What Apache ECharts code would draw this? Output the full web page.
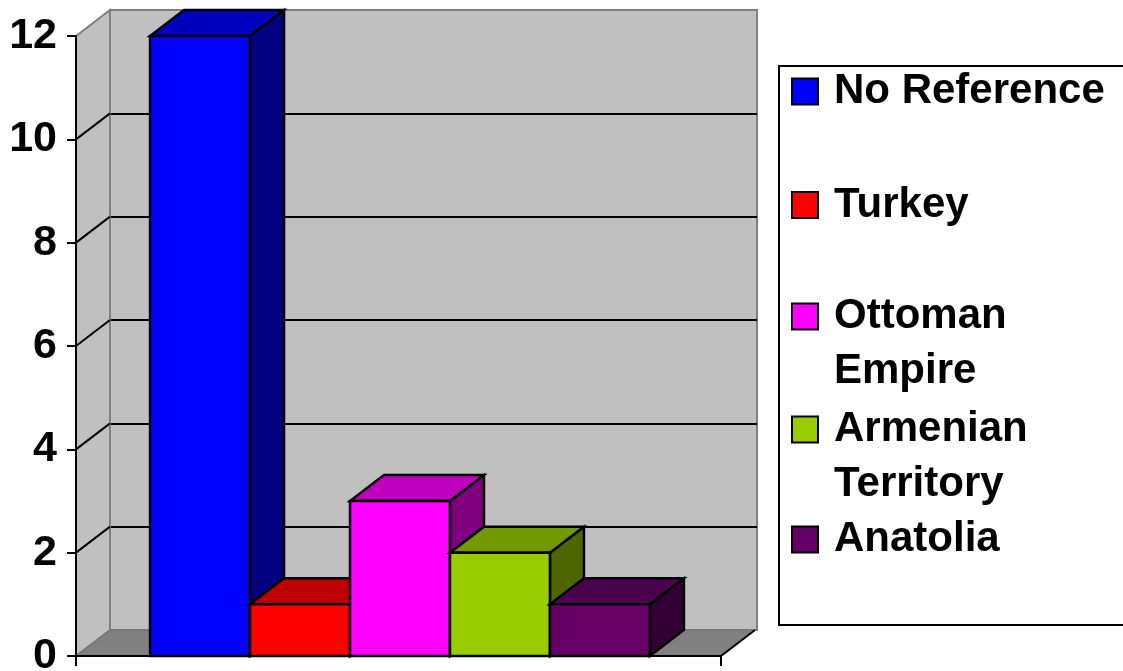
<!DOCTYPE html>
<html><head><meta charset="utf-8">
<script src="https://cdn.jsdelivr.net/npm/echarts@6/dist/echarts.min.js"></script>
<style>html,body{margin:0;padding:0;background:#fff}#c{width:1123px;height:671px}</style>
</head><body><div id="c"></div>
<script>
// ---- data ----
const seriesNames = ['No Reference', 'Turkey', 'Ottoman Empire', 'Armenian Territory', 'Anatolia'];
const seriesValues = [12, 1, 3, 2, 1];
const seriesColors = ['#0000FF', '#FF0000', '#FF00FF', '#99CC00', '#660066'];
const yTicks = [0, 2, 4, 6, 8, 10, 12];
const legendLines = [['No Reference'], ['Turkey'], ['Ottoman', 'Empire'], ['Armenian', 'Territory'], ['Anatolia']];

// ---- layout / style constants ----
const DX = 34, DY = -26;            // 3D depth offset
const FONT = '"Liberation Sans", Arial, Helvetica, sans-serif';
const BAR_RATIO = 0.155;            // bar width relative to category band
const legendCenters = [98, 211.5, 323, 436, 546];
const LEGEND_LH = 55;

function shade(hex, f) {
  const n = parseInt(hex.slice(1), 16);
  const r = Math.round(((n >> 16) & 255) * f), g = Math.round(((n >> 8) & 255) * f), b = Math.round((n & 255) * f);
  return 'rgb(' + r + ',' + g + ',' + b + ')';
}

function barRender(i) {
  return function (params, api) {
    const top = api.coord([0, api.value(1)]);
    const base = api.coord([0, 0]);
    const band = api.size([1, 0])[0];
    const bw = band * BAR_RATIO;
    const x0 = top[0] + (i - seriesNames.length / 2) * bw + 1.5;
    const x1 = x0 + bw;
    const yT = top[1], yB = base[1];
    const col = seriesColors[i];
    const ln = { stroke: '#000', lineWidth: 2.5, lineJoin: 'miter' };
    return {
      type: 'group', children: [
        { type: 'polygon', z2: i * 3, shape: { points: [[x1, yT], [x1 + DX, yT + DY], [x1 + DX, yB + DY], [x1, yB]] }, style: Object.assign({ fill: shade(col, 0.5) }, ln) },
        { type: 'polygon', z2: i * 3 + 1, shape: { points: [[x0, yT], [x1, yT], [x1 + DX, yT + DY], [x0 + DX, yT + DY]] }, style: Object.assign({ fill: shade(col, 0.75) }, ln) },
        { type: 'rect', z2: i * 3 + 2, shape: { x: x0, y: yT, width: bw, height: yB - yT }, style: Object.assign({ fill: col }, ln) }
      ]
    };
  };
}

function wallRender(params, api) {
  const cs = params.coordSys;
  const xL = cs.x, xR = cs.x + cs.width, yT = cs.y, yB = cs.y + cs.height;
  const children = [
    { type: 'polygon', shape: { points: [[xL, yT], [xL + DX, yT + DY], [xL + DX, yB + DY], [xL, yB]] }, style: { fill: '#C0C0C0', stroke: '#808080', lineWidth: 2 } },
    { type: 'polygon', shape: { points: [[xL, yB], [xL + DX, yB + DY], [xR + DX, yB + DY], [xR, yB]] }, style: { fill: '#808080', stroke: '#707070', lineWidth: 1 } },
    { type: 'line', shape: { x1: xR, y1: yB, x2: xR + DX, y2: yB + DY }, style: { stroke: '#000', lineWidth: 2 } }
  ];
  yTicks.slice(1, -1).forEach(function (v) {
    const y = api.coord([0, v])[1];
    children.push({ type: 'line', shape: { x1: xL, y1: y, x2: xL + DX, y2: y + DY }, style: { stroke: '#000', lineWidth: 2 } });
  });
  return { type: 'group', children: children };
}

const yMin = yTicks[0], yMax = yTicks[yTicks.length - 1], yInterval = yTicks[1] - yTicks[0];

const series = [{
  type: 'custom', name: '__wall', xAxisIndex: 0, yAxisIndex: 0, z: 1, silent: true,
  data: [[0, 0]], renderItem: wallRender, clip: false
}];
seriesNames.forEach(function (n, i) {
  series.push({
    type: 'custom', name: n, xAxisIndex: 0, yAxisIndex: 0, z: 3, clip: false,
    itemStyle: { color: seriesColors[i], borderColor: '#000', borderWidth: 2 },
    data: [[0, seriesValues[i]]], renderItem: barRender(i)
  });
});

const legends = seriesNames.map(function (n, i) {
  const lines = legendLines[i];
  const multi = lines.length > 1;
  return {
    data: [n], orient: 'vertical', left: 791,
    top: legendCenters[i] - (multi ? 1.5 * LEGEND_LH : 0.5 * LEGEND_LH),
    padding: 0, icon: 'rect', itemWidth: 26, itemHeight: 26, selectedMode: false,
    itemStyle: { borderColor: '#000', borderWidth: 2 },
    formatter: function () {
      return multi ? '{s| }\n' + lines.map(function (l) { return '{t|' + l + '}'; }).join('\n') : '{t|' + lines[0] + '}';
    },
    textStyle: {
      rich: {
        t: { fontFamily: FONT, fontWeight: 'bold', fontSize: 42, lineHeight: LEGEND_LH, padding: [0, 0, 0, 11], color: '#000' },
        s: { fontFamily: FONT, fontSize: 42, lineHeight: LEGEND_LH }
      }
    }
  };
});

const option = {
  animation: false,
  backgroundColor: '#fff',
  graphic: [{ type: 'rect', z: -1, shape: { x: 779, y: 66, width: 400, height: 559 }, style: { fill: '#fff', stroke: '#000', lineWidth: 2 } }],
  legend: legends,
  grid: [
    { left: 76, right: 402, top: 36, bottom: 15, outerBoundsMode: 'none', containLabel: false },
    { left: 110, right: 366, top: 10, bottom: 41, outerBoundsMode: 'none', containLabel: false, show: true, backgroundColor: '#C0C0C0', borderColor: '#808080', borderWidth: 2, z: 0 }
  ],
  xAxis: [
    { type: 'category', gridIndex: 0, data: [''], z: 5, boundaryGap: true,
      axisLine: { lineStyle: { color: '#000', width: 2 } },
      axisTick: { show: true, length: 10, lineStyle: { color: '#000', width: 2 } },
      axisLabel: { show: false }, splitLine: { show: false } },
    { type: 'category', gridIndex: 1, data: [''], show: false }
  ],
  yAxis: [
    { type: 'value', gridIndex: 0, min: yMin, max: yMax, interval: yInterval, z: 5,
      axisLine: { show: true, lineStyle: { color: '#000', width: 2 } },
      axisTick: { show: true, length: 9, lineStyle: { color: '#000', width: 2 } },
      axisLabel: { margin: 19, fontFamily: FONT, fontWeight: 'bold', fontSize: 43, color: '#000' },
      splitLine: { show: false } },
    { type: 'value', gridIndex: 1, min: yMin, max: yMax, interval: yInterval, z: 0,
      axisLine: { show: false }, axisTick: { show: false }, axisLabel: { show: false },
      splitLine: { show: true, showMinLine: false, showMaxLine: false, lineStyle: { color: '#000', width: 2 } } }
  ],
  series: series
};

const chart = echarts.init(document.getElementById('c'), null, { renderer: 'canvas' });
chart.setOption(option);
</script>
</body></html>
